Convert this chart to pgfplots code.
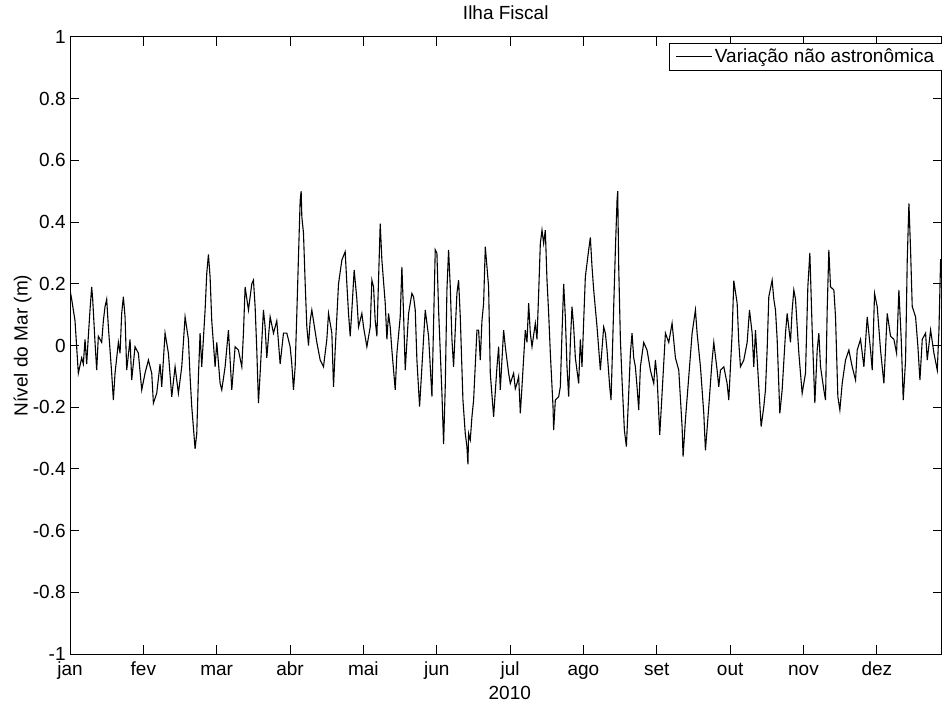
\documentclass[border=0pt]{standalone}
\usepackage{fontspec}
\setmainfont{Liberation Sans}
\usepackage{pgfplots}
\pgfplotsset{compat=1.18}
\begin{document}
\fontsize{9.5}{11.4}\selectfont
\begin{tikzpicture}
\useasboundingbox (0,0) rectangle (471pt,351pt);
\begin{axis}[
  at={(35pt,24pt)}, anchor=south west,
  scale only axis, width=435.75pt, height=308.5pt,
  xmin=0, xmax=365, ymin=-1, ymax=1,
  xtick={0,30.72,61.44,92.16,122.88,153.6,184.32,215.04,245.76,276.48,307.2,337.92},
  xticklabels={jan,fev,mar,abr,mai,jun,jul,ago,set,out,nov,dez},
  ytick={-1,-0.8,-0.6,-0.4,-0.2,0,0.2,0.4,0.6,0.8,1},
  yticklabels={-1,-0.8,-0.6,-0.4,-0.2,0,0.2,0.4,0.6,0.8,1},
  tick align=inside, tick pos=both, major tick length=4.5pt,
  axis line style={line width=0.5pt, black},
  every tick/.style={black, line width=0.5pt},
  yticklabel style={anchor=east, inner sep=0pt, xshift=-2pt},
  xticklabel style={anchor=base, inner sep=0pt, yshift=-10.5pt},
  every axis title shift=0pt,
  title={Ilha Fiscal},
  title style={at={(axis description cs:0.5,1.0276)}, anchor=base, inner sep=0pt},
  xlabel={2010},
  xlabel style={at={(axis description cs:0.5046,-0.0737)}, anchor=base, inner sep=0pt},
  ylabel={Nível do Mar (m)},
  ylabel style={at={(axis description cs:-0.0545,0.5)}, anchor=center, inner sep=0pt},
  legend style={at={(0.6877,0.9903)}, anchor=north west, draw=black, line width=0.5pt,
    inner xsep=3pt, inner ysep=1.5pt, nodes={inner sep=1pt}, cells={anchor=west},
    font=\fontsize{9.5}{11.4}\selectfont},
  legend image code/.code={\draw[#1] (0pt,0pt) -- (18pt,0pt);},
]
\addplot[black, line width=0.55pt] coordinates {
(0.00,0.18) (0.70,0.15) (2.10,0.08) (3.49,-0.09) (4.89,-0.04) (5.59,-0.06) (6.29,0.02) (6.99,-0.06) (7.68,0.03) (8.38,0.115)
(9.08,0.19) (9.50,0.15) (10.48,0.01) (11.18,-0.08) (11.87,0.03) (13.27,0.01) (13.97,0.08) (14.67,0.126) (15.37,0.15) (16.07,0.06)
(17.46,-0.09) (18.16,-0.177) (18.86,-0.09) (20.26,0.01) (20.96,-0.025) (21.65,0.104) (22.35,0.158) (23.05,0.093) (23.75,-0.08) (25.15,0.02)
(25.84,-0.112) (27.24,-0.004) (28.64,-0.025) (30.04,-0.144) (31.43,-0.09) (32.83,-0.047) (34.23,-0.09) (34.93,-0.187) (36.32,-0.155) (37.72,-0.06)
(38.42,-0.134) (39.81,0.04) (41.21,-0.025) (42.61,-0.166) (44.01,-0.069) (45.40,-0.155) (46.80,-0.069) (48.20,0.093) (49.59,0.02) (50.29,-0.101)
(50.99,-0.198) (52.39,-0.335) (53.09,-0.285) (53.78,-0.101) (54.48,0.04) (55.18,-0.069) (56.58,0.115) (57.28,0.234) (57.97,0.295) (58.67,0.223)
(59.37,0.08) (60.77,-0.069) (61.47,0.01) (62.87,-0.123) (63.56,-0.144) (64.96,-0.069) (66.36,0.05) (67.76,-0.144) (69.15,-0.004) (70.55,-0.015)
(71.95,-0.069) (72.64,0.04) (73.34,0.19) (74.74,0.115) (76.14,0.20) (76.83,0.212) (77.53,0.126) (78.23,-0.015) (78.93,-0.187) (79.63,-0.09)
(81.02,0.115) (81.72,0.06) (82.42,-0.04) (83.82,0.093) (85.22,0.04) (86.61,0.08) (88.01,-0.06) (89.41,0.04) (90.81,0.04) (92.20,-0.004)
(92.90,-0.06) (93.60,-0.144) (94.30,-0.069) (95.00,0.104) (95.69,0.288) (96.39,0.47) (96.81,0.50) (97.09,0.418) (97.79,0.364) (98.50,0.20)
(99.19,0.06) (99.89,0.0) (100.58,0.08) (101.28,0.115) (101.98,0.08) (103.38,0.01) (104.78,-0.047) (106.17,-0.069) (107.57,0.02) (108.27,0.104)
(109.67,0.04) (110.36,-0.134) (111.06,-0.015) (112.46,0.20) (113.86,0.277) (115.25,0.304) (115.95,0.20) (116.65,0.104) (117.35,0.03) (118.05,0.115)
(119.02,0.245) (120.14,0.15) (120.84,0.06) (122.24,0.104) (122.94,0.06) (124.33,-0.004) (125.73,0.06) (126.43,0.212) (127.13,0.19) (127.83,0.08)
(128.53,0.03) (129.22,0.212) (129.92,0.395) (130.62,0.277) (132.02,0.137) (132.72,0.02) (133.41,0.104) (134.11,0.06) (134.81,-0.015) (136.21,-0.144)
(136.91,-0.025) (138.30,0.093) (139.00,0.255) (139.70,0.104) (140.40,-0.08) (141.80,0.104) (143.19,0.169) (143.89,0.158) (144.59,0.115) (145.29,-0.047)
(146.41,-0.198) (147.39,-0.069) (148.78,0.115) (150.18,0.03) (151.58,-0.166) (152.97,0.31) (153.67,0.299) (154.37,0.115) (155.77,-0.155) (156.47,-0.32)
(157.16,-0.134) (157.86,0.18) (158.56,0.31) (159.26,0.19) (159.96,0.02) (160.65,-0.069) (162.05,0.169) (162.75,0.212) (163.45,0.093) (164.57,-0.177)
(165.54,-0.285) (166.24,-0.328) (166.66,-0.385) (166.94,-0.285) (167.64,-0.306) (168.34,-0.231) (169.04,-0.177) (170.44,0.05) (171.13,0.05) (171.83,-0.047)
(172.53,0.08) (173.23,0.137) (173.93,0.32) (174.63,0.255) (175.32,0.19) (176.02,-0.09) (177.42,-0.231) (178.82,-0.069) (179.52,-0.004) (180.21,-0.144)
(181.61,0.05) (182.31,-0.004) (183.71,-0.09) (184.40,-0.123) (185.80,-0.09) (186.50,-0.14) (187.20,-0.123) (187.90,-0.10) (188.60,-0.22) (189.29,-0.134)
(190.69,0.05) (191.39,0.01) (192.09,0.137) (192.79,0.04) (193.49,-0.004) (194.88,0.072) (195.58,0.02) (196.28,0.169) (196.98,0.331) (197.68,0.374)
(198.37,0.331) (199.07,0.374) (199.77,0.212) (200.47,0.104) (201.17,-0.025) (202.29,-0.198) (202.56,-0.274) (203.26,-0.177) (204.66,-0.166) (205.36,-0.134)
(206.06,0.04) (206.76,0.20) (207.45,0.093) (208.15,-0.069) (208.85,-0.166) (209.55,0.01) (210.25,0.126) (210.95,0.06) (211.65,-0.04) (213.04,-0.123)
(213.74,0.02) (214.44,-0.069) (215.14,0.08) (215.84,0.223) (217.23,0.31) (217.93,0.35) (218.63,0.255) (219.33,0.18) (220.73,0.06) (222.12,-0.08)
(223.52,0.06) (224.22,0.04) (224.92,-0.015) (226.04,-0.134) (226.60,-0.177) (227.71,0.126) (228.41,0.31) (229.11,0.47) (229.39,0.50) (229.81,0.255)
(230.51,0.02) (231.20,-0.112) (232.18,-0.274) (233.02,-0.328) (234.00,-0.155) (234.70,-0.025) (235.39,0.04) (236.09,-0.04) (236.79,-0.069) (237.49,-0.134)
(238.19,-0.209) (238.89,-0.069) (240.28,0.01) (241.68,-0.015) (243.08,-0.08) (244.48,-0.123) (245.17,-0.047) (245.87,-0.101) (246.99,-0.29) (247.97,-0.155)
(249.37,0.04) (250.76,0.01) (252.16,0.072) (253.56,-0.04) (254.96,-0.08) (256.35,-0.263) (256.77,-0.36) (257.75,-0.241) (259.15,-0.101) (260.55,0.04)
(261.94,0.115) (262.64,0.04) (264.04,-0.069) (265.44,-0.22) (266.13,-0.34) (267.53,-0.198) (268.93,-0.047) (269.63,0.01) (271.02,-0.08) (271.72,-0.134)
(272.42,-0.08) (273.82,-0.069) (275.21,-0.123) (275.91,-0.177) (277.31,0.04) (278.01,0.21) (279.41,0.137) (280.10,0.01) (280.80,-0.069) (282.20,-0.047)
(283.60,0.01) (284.58,0.115) (285.69,0.04) (286.38,-0.069) (287.08,0.05) (288.48,-0.134) (289.46,-0.263) (290.58,-0.198) (291.27,-0.144) (291.97,-0.015)
(292.67,0.158) (294.07,0.212) (294.77,0.15) (295.47,0.115) (296.17,0.02) (297.28,-0.22) (298.26,-0.144) (299.66,0.04) (300.36,0.104) (301.75,0.01)
(302.45,0.115) (303.15,0.18) (303.85,0.15) (305.25,-0.025) (306.64,-0.155) (308.04,-0.09) (309.02,0.19) (309.86,0.30) (310.84,0.05) (311.95,-0.187)
(312.93,-0.015) (313.63,0.04) (314.33,-0.069) (315.72,-0.144) (316.42,-0.177) (317.12,0.115) (317.82,0.31) (318.52,0.19) (319.92,0.18) (320.61,0.093)
(321.59,-0.166) (322.43,-0.209) (323.41,-0.123) (324.80,-0.047) (326.20,-0.015) (327.60,-0.069) (329.00,-0.112) (329.69,-0.015) (331.09,0.02) (332.49,-0.069)
(333.89,0.093) (335.28,-0.015) (335.98,-0.08) (336.96,0.169) (338.07,0.126) (339.47,-0.015) (340.87,-0.123) (342.27,0.104) (343.66,0.03) (345.06,0.02)
(346.18,-0.025) (347.15,0.18) (348.13,0.02) (348.97,-0.177) (349.95,-0.047) (350.65,0.277) (351.35,0.461) (352.04,0.31) (352.74,0.126) (354.14,0.093)
(355.12,-0.004) (355.96,-0.112) (356.94,0.02) (358.33,0.04) (359.03,-0.047) (360.43,0.05) (361.83,-0.025) (363.23,-0.08) (363.93,0.05) (364.63,0.28)
(365.00,0.22)
};
\addlegendentry{Variação não astronômica}
\end{axis}
\end{tikzpicture}
\end{document}
